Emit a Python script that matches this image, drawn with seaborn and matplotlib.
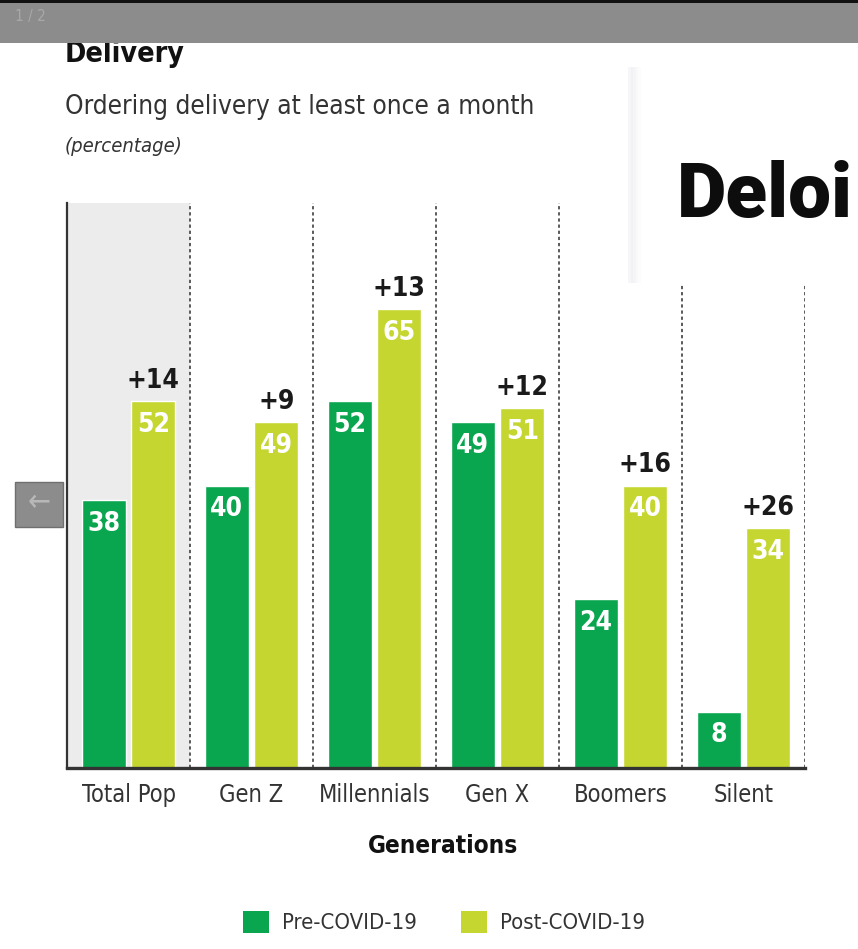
import matplotlib
matplotlib.use("Agg")
import matplotlib.pyplot as plt
import pandas as pd
import seaborn as sns
from matplotlib import font_manager
from matplotlib.patches import Rectangle, Patch

# ---- data -------------------------------------------------------------
generations = ["Total Pop", "Gen Z", "Millennials", "Gen X", "Boomers", "Silent"]
pre_covid = [38, 40, 52, 49, 24, 8]
post_covid = [52, 49, 65, 51, 40, 34]
change_labels = ["+14", "+9", "+13", "+12", "+16", "+26"]
series_names = ["Pre-COVID-19", "Post-COVID-19"]
series_colors = ["#0aa64f", "#c5d631"]

# ---- fonts ------------------------------------------------------------
fonts = font_manager.fontManager.ttflist
names = {f.name for f in fonts}
has_dejavu_cond = any(f.name == "DejaVu Sans" and f.stretch == "condensed" for f in fonts)
if "Liberation Sans Narrow" in names:
    NARROW = dict(family="Liberation Sans Narrow")
elif has_dejavu_cond:
    NARROW = dict(family="DejaVu Sans", stretch="condensed")
else:
    NARROW = dict(family="Roboto")
HEAVY = "Roboto" if "Roboto" in names else "DejaVu Sans"

sns.set_theme(style="white")
plt.rcParams["font.family"] = [NARROW["family"], "DejaVu Sans"]
if "stretch" in NARROW:
    plt.rcParams["font.stretch"] = NARROW["stretch"]

W, H = 858, 949
fig = plt.figure(figsize=(W / 100, H / 100), dpi=100)
fig.patch.set_facecolor("white")


def fx(px):
    return px / W


def fy(py):
    return 1 - py / H


ax_left, ax_right, ax_top, ax_bottom = 67, 805, 203, 768
ax_w, ax_h = ax_right - ax_left, ax_bottom - ax_top
ax = fig.add_axes([fx(ax_left), fy(ax_bottom), fx(ax_w), ax_h / H])

df = pd.DataFrame({
    "Generation": generations * 2,
    "Period": [series_names[0]] * len(generations) + [series_names[1]] * len(generations),
    "Percent": pre_covid + post_covid,
})

# shaded column behind the whole-population group
ax.axvspan(-0.5, 0.5, color="#ececec", zorder=0, lw=0)

sns.barplot(data=df, x="Generation", y="Percent", hue="Period", order=generations,
            hue_order=series_names, palette=series_colors, width=0.81, gap=0.12,
            saturation=1, legend=False, ax=ax, zorder=2)

ax.set_xlim(-0.5, len(generations) - 0.5)
ax.set_ylim(0, 80)

# dotted group separators
for i in range(len(generations)):
    ax.axvline(i + 0.5, color="#4d4d4d", lw=1.3, ls=(0, (1.8, 1.6)), zorder=1)

# value labels inside the bars, change labels above the post bars
for container, values in zip(ax.containers, [pre_covid, post_covid]):
    for bar, v in zip(container, values):
        ax.annotate(f"{v}", (bar.get_x() + bar.get_width() / 2, bar.get_height()),
                    xytext=(0, -24), textcoords="offset pixels", ha="center", va="center",
                    color="white", fontsize=19, fontweight="bold", zorder=3)
for bar, lab in zip(ax.containers[1], change_labels):
    ax.annotate(lab, (bar.get_x() + bar.get_width() / 2, bar.get_height()),
                xytext=(0, 20), textcoords="offset pixels", ha="center", va="center",
                color="#1a1a1a", fontsize=19, fontweight="bold", zorder=3)

# axes styling
sns.despine(ax=ax, top=True, right=True)
ax.spines["left"].set_color("#333333")
ax.spines["left"].set_linewidth(1.6)
ax.spines["bottom"].set_color("#333333")
ax.spines["bottom"].set_linewidth(2.4)
ax.set_yticks([])
ax.set_ylabel("")
ax.tick_params(axis="x", length=0, pad=11, labelsize=17, labelcolor="#333333")
ax.set_xlabel("Generations", fontsize=17.5, fontweight="bold", color="#111111", va="center")
ax.xaxis.set_label_coords((443 - ax_left) / ax_w, (ax_bottom - 846) / ax_h)
ax.set_facecolor("none")

# titles
fig.text(fx(65), fy(62), "Delivery", fontsize=20.5, fontweight="bold", color="#111111",
         ha="left", va="baseline")
fig.text(fx(65), fy(114), "Ordering delivery at least once a month", fontsize=18.8,
         color="#333333", ha="left", va="baseline")
fig.text(fx(65), fy(152), "(percentage)", fontsize=14.5, style="italic", color="#333333",
         ha="left", va="baseline")

# legend
handles = [Patch(facecolor=c, edgecolor="none") for c in series_colors]
fig.legend(handles, series_names, loc="center", bbox_to_anchor=(fx(444), fy(922)), ncol=2,
           frameon=False, fontsize=15.8, handlelength=1.2, handleheight=1.2,
           handletextpad=0.6, columnspacing=2.0, labelcolor="#333333")

# viewer chrome: top bar, page counter, back button, overlay card
fig.patches.append(Rectangle((0, fy(43)), 1, 43 / H, transform=fig.transFigure,
                             facecolor="#8c8c8c", edgecolor="none", zorder=10))
fig.patches.append(Rectangle((0, fy(3)), 1, 3 / H, transform=fig.transFigure,
                             facecolor="#111111", edgecolor="none", zorder=11))
fig.text(fx(15), fy(17), "1 / 2", fontsize=11, color="#a8a8a8", ha="left", va="center",
         zorder=12)
fig.patches.append(Rectangle((fx(15), fy(527)), fx(48), 45 / H, transform=fig.transFigure,
                             facecolor="#8c8c8c", edgecolor="#6f6f6f", lw=1, zorder=10))
fig.text(fx(39), fy(503), "\u2190", fontsize=22, color="#b8b8b8", ha="center", va="center",
         family="DejaVu Sans", zorder=12)
fig.patches.append(Rectangle((fx(628), fy(283)), fx(230), 216 / H, transform=fig.transFigure,
                             facecolor="white", edgecolor="none", zorder=10))
# soft shadow along the card's left edge
for k, shade in enumerate(["#f6f6f8", "#f2f2f4", "#f5f5f7", "#f9f9fb", "#fcfcfd"]):
    fig.patches.append(Rectangle((fx(628 + 2.5 * k), fy(283)), fx(2.5), 216 / H,
                                 transform=fig.transFigure, facecolor=shade,
                                 edgecolor="none", zorder=10))
fig.text(fx(677), fy(217), "Deloi", fontsize=55, fontweight="black", family=HEAVY,
         color="#0d0d0d", ha="left", va="baseline", zorder=12)

fig.savefig("out.png", dpi=100)
